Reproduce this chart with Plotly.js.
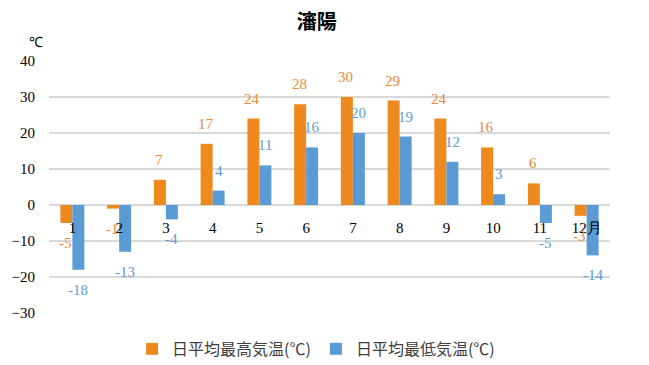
<!DOCTYPE html>
<html>
<head>
<meta charset="utf-8">
<script src="https://cdn.plot.ly/plotly-3.0.1.min.js"></script>
<style>html,body{margin:0;padding:0;background:#fff;}#chart{width:649px;height:365px;}</style>
</head>
<body>
<div id="chart"></div>
<script>
const months = [1,2,3,4,5,6,7,8,9,10,11,12];
const monthLabels = ['1','2','3','4','5','6','7','8','9','10','11','12月'];
const highTemps = [-5,-1,7,17,24,28,30,29,24,16,6,-3];
const lowTemps = [-18,-13,-4,4,11,16,20,19,12,3,-5,-14];
const seriesNames = ['日平均最高気温(℃)','日平均最低気温(℃)'];
const chartTitle = '瀋陽';
const unitLabel = '℃';

const orange = '#EE8A1D';
const blue = '#5B9BD5';
const serif = 'Liberation Serif, Times New Roman, serif';
const cjk = 'Noto Sans CJK JP, sans-serif';

const traces = [
  {type:'bar', x:months, y:highTemps, name:seriesNames[0], marker:{color:orange}},
  {type:'bar', x:months, y:lowTemps, name:seriesNames[1], marker:{color:blue}}
];

const annotations = [];
function addLabels(vals, color, xs) {
  vals.forEach((v,i)=>{
    annotations.push({x:months[i], y:v, xref:'x', yref:'y', text:String(v), showarrow:false,
      xshift:xs, yshift: v>=0 ? 20 : -20, font:{family:serif, size:15, color:color}});
  });
}
addLabels(highTemps, '#E8883A', -7);
addLabels(lowTemps, blue, 6);
annotations.push({x:-0.04, y:1.115, xref:'paper', yref:'paper', text:unitLabel, showarrow:false,
  font:{family:'Liberation Sans, Arial, sans-serif', size:14, color:'#000'}});

const layout = {
  width:649, height:365,
  margin:{l:49, r:39, t:61, b:52, pad:0, autoexpand:false},
  paper_bgcolor:'#fff', plot_bgcolor:'#fff',
  title:{text:'<b>'+chartTitle+'</b>', x:0.488, xanchor:'center', y:0.94, yanchor:'middle', xref:'container', yref:'container',
    font:{family:cjk, size:20, color:'#000'}},
  barmode:'group', bargap:0.487, bargroupgap:0,
  xaxis:{range:[0.5,12.5], tickvals:months, ticktext:monthLabels, anchor:'free', position:30/70,
    showgrid:false, zeroline:false, showline:false, ticks:'outside', ticklen:9, tickcolor:'rgba(0,0,0,0)',
    tickfont:{family:serif, size:15, color:'#000'}, fixedrange:true, automargin:false},
  yaxis:{range:[-30,40], dtick:10, showgrid:true, gridcolor:'#D9D9D9', gridwidth:1.5, zeroline:false,
    ticks:'outside', ticklen:10, tickcolor:'rgba(0,0,0,0)', tickfont:{family:serif, size:15, color:'#000'}, automargin:false},
  showlegend:true,
  legend:{orientation:'h', x:0.487, xanchor:'center', xref:'container', y:0.044, yanchor:'middle', yref:'container',
    font:{family:cjk, size:16, color:'#404040'}, itemwidth:30, tracegroupgap:0},
  annotations:annotations
};
Plotly.newPlot('chart', traces, layout, {displayModeBar:false, staticPlot:true});
</script>
</body>
</html>
